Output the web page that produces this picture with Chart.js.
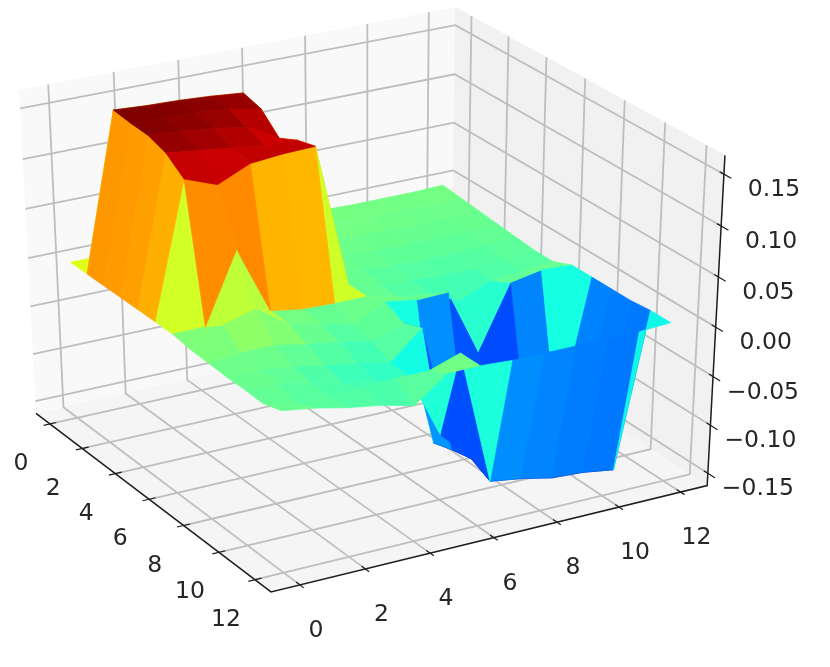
<!DOCTYPE html>
<html>
<head>
<meta charset="utf-8">
<style>
html,body{margin:0;padding:0;background:#fff}
canvas{display:block;filter:blur(0.6px)}
</style>
<script src="https://cdn.jsdelivr.net/npm/chart.js@4/dist/chart.umd.js"></script>
</head>
<body>
<canvas id="c" width="830" height="667"></canvas>
<script>
const xCategories=[0,1,2,3,4,5,6,7,8,9,10,11,12];
const yCategories=[0,1,2,3,4,5,6,7,8,9,10,11,12];
const xTicks=[0,2,4,6,8,10,12];
const yTicks=[0,2,4,6,8,10,12];
const zTicks=[-0.15,-0.10,-0.05,0.00,0.05,0.10,0.15];
const zTickLabels=["\u22120.15","\u22120.10","\u22120.05","0.00","0.05","0.10","0.15"];
const zRow0=[.000,.000,.000,.000,.000,.000,.000,.000,.000,-.001,-.001,-.001,.000];
const zRow1=[.000,.157,.155,.154,.152,.149,-.001,-.001,-.001,-.002,-.003,-.004,-.002];
const zRow2=[.000,.155,.154,.153,.150,.144,-.003,-.003,-.003,-.004,-.006,-.006,-.004];
const zRow3=[.000,.154,.152,.148,.143,.126,-.002,-.005,-.007,-.008,-.008,-.008,-.006];
const zRow4=[.000,.148,.144,.140,.136,.135,-.004,-.008,-.011,-.012,-.012,-.010,-.008];
const zRow5=[.000,.134,.122,.136,.139,.140,-.004,-.012,-.014,-.016,-.016,-.014,-.010];
const zRow6=[.000,.000,.070,.002,-.003,-.004,-.004,-.012,-.016,-.030,-.016,-.014,-.010];
const zRow7=[-.003,.014,.023,.001,-.007,-.014,.002,-.003,-.002,-.070,-.006,.000,-.002];
const zRow8=[-.004,-.001,-.001,-.007,-.012,-.018,-.007,-.138,-.140,-.145,-.145,-.145,-.002];
const zRow9=[-.005,-.006,-.010,-.016,-.021,-.028,.000,-.132,-.142,-.148,-.148,-.150,-.002];
const zRow10=[-.005,-.007,-.013,-.022,-.027,-.028,-.095,-.128,-.142,-.148,-.150,-.152,-.002];
const zRow11=[-.006,-.014,-.014,-.014,-.011,-.011,.000,-.138,-.143,-.150,-.152,-.157,.000];
const zRow12=[.000,-.005,-.012,-.017,-.025,.000,.000,-.002,-.002,-.002,-.002,-.002,.000];
const zGrid=[zRow0,zRow1,zRow2,zRow3,zRow4,zRow5,zRow6,zRow7,zRow8,zRow9,zRow10,zRow11,zRow12];

const XMIN=-0.875,XMAX=12.875,YMIN=-0.875,YMAX=12.875,ZMIN=-0.163,ZMAX=0.168;
const VIEW={sx:5035,sy:3770,tx:366.4,ty:289.6};
const COS30=Math.cos(Math.PI/6),SIN30=0.5;
function project(x,y,z){
  const dx=(x-XMIN)/(XMAX-XMIN)-.5,dy=(y-YMIN)/(YMAX-YMIN)-.5,dz=(z-ZMIN)/(ZMAX-ZMIN)-.5;
  const nx=COS30*COS30,ny=-SIN30*COS30,nz=SIN30;
  const ux=SIN30,uy=COS30;
  const vx=-ny*0-nz*uy,vy=nz*ux,vz=nx*uy-ny*ux;
  const D=10-(nx*dx+ny*dy+nz*dz);
  const X=ux*dx+uy*dy,Y=vx*dx+vy*dy+vz*dz;
  return {x:VIEW.tx+VIEW.sx*X/D,y:VIEW.ty-VIEW.sy*Y/D,d:D};
}
function jet(t){
  t=Math.max(0,Math.min(1,t));
  const seg=(p)=>{for(let i=1;i<p.length;i++){if(t<=p[i][0]){const a=p[i-1],b=p[i];return a[1]+(b[1]-a[1])*(t-a[0])/(b[0]-a[0]);}}return p[p.length-1][1];};
  const r=seg([[0,0],[.35,0],[.66,1],[.89,1],[1,.5]]);
  const g=seg([[0,0],[.125,0],[.375,1],[.64,1],[.91,0],[1,0]]);
  const b=seg([[0,.5],[.11,1],[.34,1],[.65,0],[1,0]]);
  return `rgb(${Math.round(r*255)},${Math.round(g*255)},${Math.round(b*255)})`;
}
function poly(pts,fillC,strokeC,w){
  const data=pts.map(p=>({x:p.x,y:p.y}));
  data.push({x:pts[0].x,y:pts[0].y});
  return {data,showLine:true,fill:fillC?'shape':false,backgroundColor:fillC||'transparent',borderColor:strokeC,borderWidth:w,pointRadius:0,pointHoverRadius:0,tension:0,clip:false,borderJoinStyle:'round'};
}
function line(pts,c,w){
  return {data:pts.map(p=>({x:p.x,y:p.y})),showLine:true,fill:false,borderColor:c,backgroundColor:c,borderWidth:w,pointRadius:0,pointHoverRadius:0,tension:0,clip:false};
}
const drawList=[];
const P=project;
drawList.push(poly([P(XMIN,YMIN,ZMIN),P(XMIN,YMAX,ZMIN),P(XMIN,YMAX,ZMAX),P(XMIN,YMIN,ZMAX)],'rgb(249,249,249)','rgb(249,249,249)',.5));
drawList.push(poly([P(XMIN,YMAX,ZMIN),P(XMAX,YMAX,ZMIN),P(XMAX,YMAX,ZMAX),P(XMIN,YMAX,ZMAX)],'rgb(241,241,241)','rgb(241,241,241)',.5));
drawList.push(poly([P(XMIN,YMIN,ZMIN),P(XMAX,YMIN,ZMIN),P(XMAX,YMAX,ZMIN),P(XMIN,YMAX,ZMIN)],'rgb(245,245,245)','rgb(245,245,245)',.5));
const GRID='rgb(190,190,190)',GW=1.8;
xTicks.forEach(t=>drawList.push(line([P(t,YMIN,ZMIN),P(t,YMAX,ZMIN),P(t,YMAX,ZMAX)],GRID,GW)));
yTicks.forEach(t=>drawList.push(line([P(XMAX,t,ZMIN),P(XMIN,t,ZMIN),P(XMIN,t,ZMAX)],GRID,GW)));
zTicks.forEach(t=>drawList.push(line([P(XMIN,YMIN,t),P(XMIN,YMAX,t),P(XMAX,YMAX,t)],GRID,GW)));
const AX='rgb(30,30,30)',AW=1.5;
drawList.push(line([P(XMIN,YMIN,ZMIN),P(XMAX,YMIN,ZMIN),P(XMAX,YMAX,ZMIN),P(XMAX,YMAX,ZMAX)],AX,AW));
xTicks.forEach(t=>drawList.push(line([P(t,YMIN-.2,ZMIN),P(t,YMIN+.2,ZMIN)],AX,1.2)));
yTicks.forEach(t=>drawList.push(line([P(XMAX-.2,t,ZMIN),P(XMAX+.2,t,ZMIN)],AX,1.2)));
zTicks.forEach(t=>drawList.push(line([P(XMAX-.2,YMAX,t),P(XMAX+.35,YMAX,t)],AX,1.2)));
const cells=[];
for(let i=0;i<xCategories.length-1;i++){
  for(let j=0;j<yCategories.length-1;j++){
    const c=[[i,j],[i,j+1],[i+1,j+1],[i+1,j]];
    const pts=c.map(([a,b])=>P(xCategories[a],yCategories[b],zGrid[a][b]));
    const avg=c.reduce((s,[a,b])=>s+zGrid[a][b],0)/4;
    const depth=pts.reduce((s,p)=>s+p.d,0)/4;
    cells.push({pts,avg,depth});
  }
}
const vmin=Math.min(...cells.map(c=>c.avg)),vmax=Math.max(...cells.map(c=>c.avg));
cells.sort((a,b)=>b.depth-a.depth);
cells.forEach(c=>{const col=jet((c.avg-vmin)/(vmax-vmin));drawList.push(poly(c.pts,col,col,.7));});

const tickText={
  id:'tickText',
  afterDatasetsDraw(chart){
    const ctx=chart.ctx,sx=chart.scales.x,sy=chart.scales.y;
    ctx.save();
    ctx.font='23.5px "DejaVu Sans"';
    ctx.fillStyle='rgb(38,38,38)';
    ctx.textAlign='center';ctx.textBaseline='middle';
    const put=(s,p,ox,oy)=>ctx.fillText(s,sx.getPixelForValue(p.x)+ox,sy.getPixelForValue(p.y)+oy);
    xTicks.forEach(t=>put(String(t),P(t,YMIN,ZMIN),-29,40));
    yTicks.forEach(t=>put(String(t),P(XMAX,t,ZMIN),16,46));
    zTicks.forEach((t,i)=>put(zTickLabels[i],P(XMAX,YMAX,t),50,16));
    ctx.restore();
  }
};
new Chart(document.getElementById('c'),{
  type:'scatter',
  data:{datasets:drawList.slice().reverse()},
  plugins:[tickText],
  options:{
    responsive:false,animation:false,devicePixelRatio:1,
    layout:{padding:0},
    events:[],
    scales:{
      x:{type:'linear',min:0,max:830,display:false},
      y:{type:'linear',min:0,max:667,reverse:true,display:false}
    },
    plugins:{legend:{display:false},tooltip:{enabled:false},title:{display:false}}
  }
});
</script>
</body>
</html>
